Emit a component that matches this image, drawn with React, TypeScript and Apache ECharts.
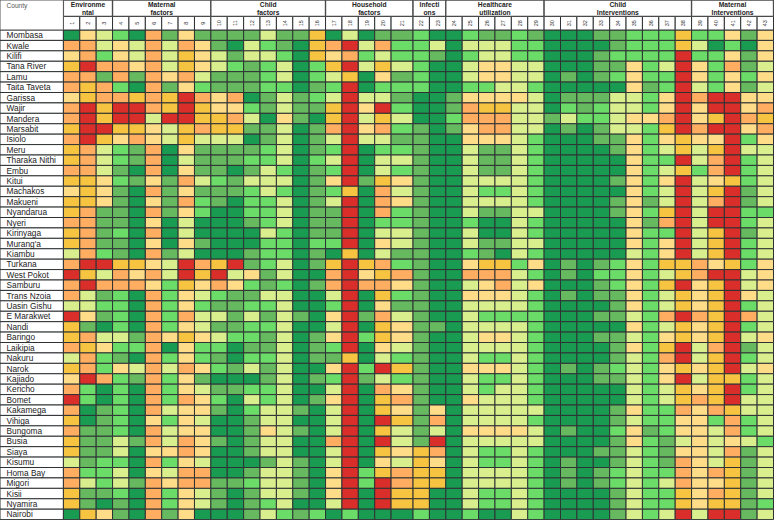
import React, { useEffect, useRef } from "react";
import * as echarts from "echarts";

const counties = ["Mombasa","Kwale","Kilifi","Tana River","Lamu","Taita Taveta","Garissa","Wajir","Mandera","Marsabit","Isiolo","Meru","Tharaka Nithi","Embu","Kitui","Machakos","Makueni","Nyandarua","Nyeri","Kirinyaga","Murang'a","Kiambu","Turkana","West Pokot","Samburu","Trans Nzoia","Uasin Gishu","E Marakwet","Nandi","Baringo","Laikipia","Nakuru","Narok","Kajiado","Kericho","Bomet","Kakamega","Vihiga","Bungoma","Busia","Siaya","Kisumu","Homa Bay","Migori","Kisii","Nyamira","Nairobi"];

// One digit per indicator 1-43 for each county, in the order of `counties`.
const countyClasses = [
"043205141111 311603011200211 2100011222622414",
"553435354103 210657352230333 2200001222630204",
"452435364313 320645232210233 2200012222722414",
"675545364321 230267363200344 3300011423742513",
"551515453111 230236041200344 3301012422742424",
"565205142111 220127022200223 3200000412732413",
"465565675450 131237331001444 4301113324757744",
"576775676442 131167472001566 3302123324747745",
"576773776653 041067363002555 3313223445746756",
"677664365661 130157452101455 3301013326757745",
"576454363330 130137331100444 3200011424644724",
"653215041111 230127022100311 3200001423636733",
"653215031112 230237033100311 3200000422735723",
"553105041101 320127032100311 3200000423625723",
"664214153213 330147164100333 3200001424734623",
"464105141112 320126053100322 3200000423736713",
"664104152102 230137054100333 3200001413735713",
"651105142002 230117052100311 3300001426737722",
"551104030001 230117022100200 3200000415737723",
"651205030000 320117033100300 3200000422736713",
"651104041000 220227043100311 3300000424736723",
"352105130001 220106031100210 3200000324736723",
"577664375671 230167652100466 2401012426654624",
"763545376734 130057465100555 3201022423657734",
"575554264542 120157554100345 3400012426746734",
"531205243211 330037062100444 3201011423646743",
"332205242112 230027041100333 3200001423646723",
"741205253313 131047153100322 2200011325756753",
"610205243112 230037064110333 3200000423646723",
"653315464322 130147264100344 3200011324646734",
"564225042201 130127043100333 3200001426735713",
"352105242102 230116032100322 3200001325736723",
"652435354213 130047276100444 3201012324646734",
"475215241000 130127132100322 3200011324736623",
"520205243112 230037054100323 3200000323646723",
"720205254203 230147065100433 3200000323656733",
"501205344102 331037064140333 3300001422545633",
"601204243001 330037076150333 3200001322442523",
"511205344001 431037063130444 4301002412443523",
"611315354101 330057073170333 3300001421343432",
"611304454001 330037064650322 3200011321443513",
"312205243000 131037043640322 3201001321543613",
"522304355001 331047265660333 3201012322545613",
"532315455112 331047275660333 3201012323544613",
"611205243101 331047076600322 3200001322645613",
"610105243101 230037076600322 3200001322646612",
"064105140001 321202000200200 3200001323737713",
];

const classColors = ["#1a9b52","#66b95f","#6cdc69","#d9ee8c","#ffdc87","#ffad60","#f6c440","#d92e29"];

const groupLabels = ["Environme\nntal","Maternal\nfactors","Child\nfactors","Household\nfactors","Infecti\nons","Healthcare\nutilization","Child\nInterventions","Maternal\nInterventions"];
const groupFirstColumn = [1,4,10,17,22,24,30,39];
const groupLastColumn = [3,9,16,21,23,29,38,43];
const columnLabels = Array.from({ length: 43 }, (_, i) => String(i + 1));
const cornerLabel = "County";

const WIDE_COLUMN = 21;   // indicator whose band is wider in the table
const WIDE_EXTRA = 0.34;
const NAME_SPAN = 3.87;   // the county column, in indicator-column units
const colStart = (c: number) => (c - 1) + (c > WIDE_COLUMN ? WIDE_EXTRA : 0);
const colEnd = (c: number) => c + (c >= WIDE_COLUMN ? WIDE_EXTRA : 0);
const X_MIN = -NAME_SPAN;
const X_MAX = 43 + WIDE_EXTRA;
const FONT = '"Liberation Sans", Arial, sans-serif';
const CELL_LINE = "#2e3234";

const bodyData: number[][] = [];
countyClasses.forEach((s, r) => {
  const digits = s.replace(/ /g, "");
  bodyData.push([X_MIN, r, -1, 0]);
  for (let c = 1; c <= 43; c++) bodyData.push([colStart(c), r, Number(digits[c - 1]), colEnd(c)]);
});

const renderBody = (_: any, api: any) => {
  const x0 = api.value(0);
  const r = api.value(1);
  const cls = api.value(2);
  const x1 = api.value(3);
  const a = api.coord([x0, r]);
  const b = api.coord([x1, r]);
  const h = api.size([0, 1])[1];
  return {
    type: "rect",
    shape: { x: a[0], y: a[1] - h / 2, width: b[0] - a[0], height: h },
    style: { fill: cls < 0 ? "#ffffff" : classColors[cls], stroke: CELL_LINE, lineWidth: 1 },
  };
};

const headerGroupRow = groupLabels.map((_, i) => [colStart(groupFirstColumn[i]), colEnd(groupLastColumn[i])]);
const headerNumberRow = columnLabels.map((_, i) => [colStart(i + 1), colEnd(i + 1)]);
const GROUP_BOTTOM = 16.3;
const HEADER_BOTTOM = 30;

const renderGroup = (params: any, api: any) => {
  const a = api.coord([api.value(0), 0]);
  const b = api.coord([api.value(1), GROUP_BOTTOM]);
  return {
    type: "group",
    children: [
      { type: "rect", shape: { x: a[0], y: a[1], width: b[0] - a[0], height: b[1] - a[1] }, style: { fill: "#fff", stroke: "#4a4a4a", lineWidth: 1.3 } },
      { type: "text", style: { x: (a[0] + b[0]) / 2, y: (a[1] + b[1]) / 2 + 0.6, text: groupLabels[params.dataIndex], align: "center", verticalAlign: "middle", font: `bold 6.7px ${FONT}`, lineHeight: 7.8, fill: "#222" } },
    ],
  };
};

const renderNumber = (params: any, api: any) => {
  const a = api.coord([api.value(0), GROUP_BOTTOM]);
  const b = api.coord([api.value(1), HEADER_BOTTOM]);
  return {
    type: "group",
    children: [
      { type: "rect", shape: { x: a[0], y: a[1], width: b[0] - a[0], height: b[1] - a[1] }, style: { fill: "#fff", stroke: CELL_LINE, lineWidth: 1 } },
      { type: "text", x: (a[0] + b[0]) / 2, y: (a[1] + b[1]) / 2, rotation: Math.PI / 2, style: { x: 0, y: 0, text: columnLabels[params.dataIndex], align: "center", verticalAlign: "middle", font: `5.5px ${FONT}`, fill: "#333" } },
    ],
  };
};

const renderCorner = (_: any, api: any) => {
  const a = api.coord([X_MIN, 0]);
  const b = api.coord([0, HEADER_BOTTOM]);
  return {
    type: "group",
    children: [
      { type: "rect", shape: { x: a[0], y: a[1], width: b[0] - a[0], height: b[1] - a[1] }, style: { fill: "#fff", stroke: "#555", lineWidth: 1 } },
      { type: "text", style: { x: 6.5, y: 5, text: cornerLabel, align: "left", verticalAlign: "middle", font: `6.6px ${FONT}`, fill: "#555" } },
    ],
  };
};

export default function App() {
  const ref = useRef<HTMLDivElement>(null);
  useEffect(() => {
    document.body.style.margin = "0";
    const chart = echarts.init(ref.current!, undefined, { renderer: "svg" });
    chart.setOption({
      animation: false,
      backgroundColor: "#fff",
      tooltip: { show: false },
      grid: [
        { left: 0, width: 773.5, top: 30, height: 489.6 },
        { left: 0, width: 773.5, top: 0, height: 30 },
      ],
      xAxis: [
        { type: "value", gridIndex: 0, min: X_MIN, max: X_MAX, show: false, splitLine: { show: false } },
        { type: "value", gridIndex: 1, min: X_MIN, max: X_MAX, show: false, splitLine: { show: false } },
      ],
      yAxis: [
        {
          type: "category", gridIndex: 0, inverse: true, data: counties, z: 10,
          axisLine: { show: false }, axisTick: { show: false }, splitLine: { show: false },
          axisLabel: { inside: true, margin: 6.5, interval: 0, align: "left", fontFamily: "Liberation Sans", fontSize: 8.3, color: "#222" },
        },
        { type: "value", gridIndex: 1, inverse: true, min: 0, max: HEADER_BOTTOM, show: false, splitLine: { show: false } },
      ],
      series: [
        { type: "custom", xAxisIndex: 0, yAxisIndex: 0, data: bodyData, renderItem: renderBody, encode: { x: 0, y: 1 }, silent: true },
        { type: "custom", xAxisIndex: 1, yAxisIndex: 1, data: headerNumberRow, renderItem: renderNumber, encode: { x: [0, 1] }, silent: true },
        { type: "custom", xAxisIndex: 1, yAxisIndex: 1, data: headerGroupRow, renderItem: renderGroup, encode: { x: [0, 1] }, silent: true },
        { type: "custom", xAxisIndex: 1, yAxisIndex: 1, data: [[0]], renderItem: renderCorner, silent: true },
      ],
    });
    return () => chart.dispose();
  }, []);
  return <div ref={ref} style={{ width: 774, height: 520 }} />;
}
